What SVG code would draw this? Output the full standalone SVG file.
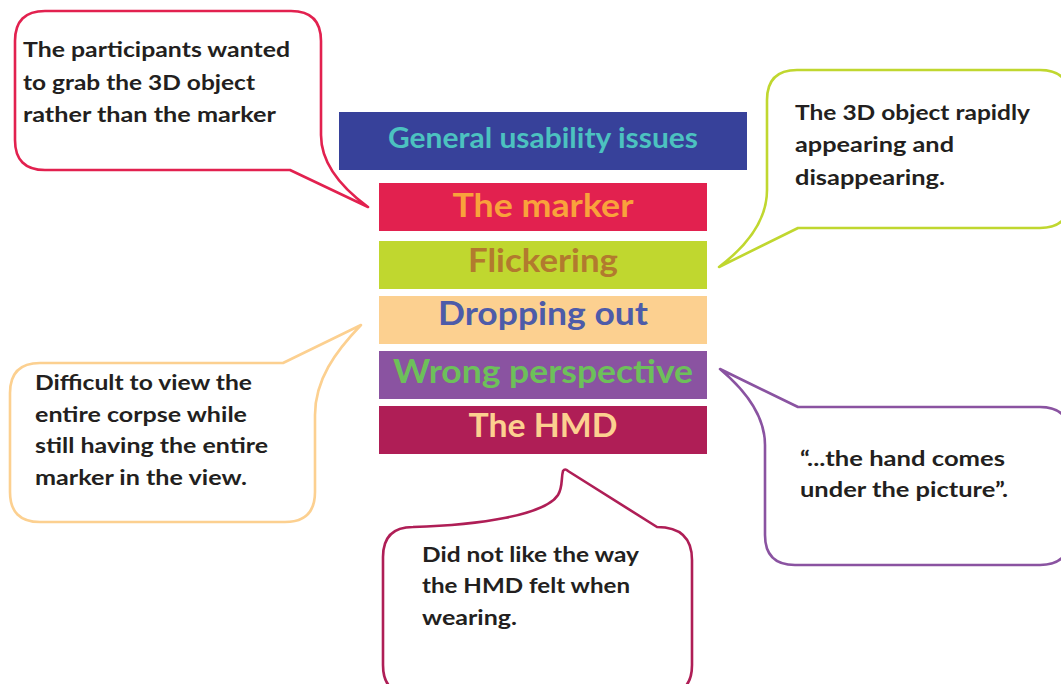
<svg xmlns="http://www.w3.org/2000/svg" width="1061" height="684" viewBox="0 0 1061 684">
  <style>
    .bar-label { font-family: Lato, "Open Sans", "Liberation Sans", sans-serif; font-weight: 700; text-anchor: middle; }
    .head { font-size: 28px; }
    .item { font-size: 33px; }
    .bubble { fill: #ffffff; stroke-width: 2.6; stroke-linejoin: round; }
    .note { font-family: Lato, "Open Sans", "Liberation Sans", sans-serif; font-weight: 700; font-size: 20px; fill: #231f20; }
  </style>

  <rect width="1061" height="684" fill="#ffffff"/>

  <!-- category stack -->
  <g id="header">
    <rect x="339" y="112" width="408" height="58" fill="#37419a"/>
    <text class="bar-label head" x="543" y="148" fill="#4cc2c0" textLength="310" lengthAdjust="spacingAndGlyphs">General usability issues</text>
  </g>
  <g id="marker">
    <rect x="379" y="183" width="328" height="48" fill="#e2214f"/>
    <text class="bar-label item" x="543" y="217" fill="#f9a23b" textLength="181" lengthAdjust="spacingAndGlyphs">The marker</text>
  </g>
  <g id="flickering">
    <rect x="379" y="241" width="328" height="48" fill="#c0d72f"/>
    <text class="bar-label item" x="543" y="272" fill="#b27a2e" textLength="150" lengthAdjust="spacingAndGlyphs">Flickering</text>
  </g>
  <g id="dropping-out">
    <rect x="379" y="296" width="328" height="48" fill="#fcd090"/>
    <text class="bar-label item" x="543" y="325" fill="#4d5ba9" textLength="210" lengthAdjust="spacingAndGlyphs">Dropping out</text>
  </g>
  <g id="wrong-perspective">
    <rect x="379" y="351" width="328" height="48" fill="#8a53a1"/>
    <text class="bar-label item" x="543" y="383" fill="#6dc05a" textLength="300" lengthAdjust="spacingAndGlyphs">Wrong perspective</text>
  </g>
  <g id="hmd">
    <rect x="379" y="406" width="328" height="48" fill="#af1e56"/>
    <text class="bar-label item" x="543" y="437" fill="#fcd090" textLength="149" lengthAdjust="spacingAndGlyphs">The HMD</text>
  </g>

  <!-- speech bubbles, each with its pointer tail -->
  <g id="note-marker">
    <path class="bubble" stroke="#e2214f" stroke-width="3" d="M45,11 H291 Q321,11 321,41 V135 C321,165 342,188 368,207 L290,170 H45 Q15,170 15,140 V41 Q15,11 45,11 Z"/>
    <text class="note" x="23" y="57" textLength="267" lengthAdjust="spacingAndGlyphs">The participants wanted</text>
    <text class="note" x="23" y="90" textLength="232" lengthAdjust="spacingAndGlyphs">to grab the 3D object</text>
    <text class="note" x="23" y="122" textLength="253" lengthAdjust="spacingAndGlyphs">rather than the marker</text>
  </g>

  <g id="note-flickering">
    <path class="bubble" stroke="#c0d72f" d="M797,70 H1040 Q1070,70 1070,100 V198 Q1070,228 1040,228 H798 L719,267 C748,245 767,220 767,190 V100 Q767,70 797,70 Z"/>
    <text class="note" x="795" y="120" textLength="235" lengthAdjust="spacingAndGlyphs">The 3D object rapidly</text>
    <text class="note" x="795" y="152" textLength="159" lengthAdjust="spacingAndGlyphs">appearing and</text>
    <text class="note" x="795" y="185" textLength="150" lengthAdjust="spacingAndGlyphs">disappearing.</text>
  </g>

  <g id="note-dropping-out">
    <path class="bubble" stroke="#fcd090" d="M40,363 H283 L361,325 C335,352 315,380 315,415 V492 Q315,522 285,522 H40 Q10,522 10,492 V393 Q10,363 40,363 Z"/>
    <text class="note" x="35" y="390" textLength="217" lengthAdjust="spacingAndGlyphs">Difficult to view the</text>
    <text class="note" x="35" y="422" textLength="212" lengthAdjust="spacingAndGlyphs">entire corpse while</text>
    <text class="note" x="35" y="453" textLength="233" lengthAdjust="spacingAndGlyphs">still having the entire</text>
    <text class="note" x="35" y="485" textLength="212" lengthAdjust="spacingAndGlyphs">marker in the view.</text>
  </g>

  <g id="note-perspective">
    <path class="bubble" stroke="#8a53a1" d="M798,407 H1040 Q1070,407 1070,437 V535 Q1070,565 1040,565 H795 Q765,565 765,535 V445 C765,415 745,390 720,369 Z"/>
    <text class="note" x="800" y="466" textLength="205" lengthAdjust="spacingAndGlyphs">“...the hand comes</text>
    <text class="note" x="800" y="497" textLength="208" lengthAdjust="spacingAndGlyphs">under the picture”.</text>
  </g>

  <g id="note-hmd">
    <path class="bubble" stroke="#af1e56" d="M413,527 C480,525 545,515 558,495 C563,487 561,478 563,471 Q565,468 568,471 L657,527 Q692,527 692,560 V665 Q692,695 662,695 H413 Q383,695 383,665 V557 Q383,527 413,527 Z"/>
    <text class="note" x="422" y="562" textLength="217" lengthAdjust="spacingAndGlyphs">Did not like the way</text>
    <text class="note" x="422" y="593" textLength="208" lengthAdjust="spacingAndGlyphs">the HMD felt when</text>
    <text class="note" x="422" y="625" textLength="95" lengthAdjust="spacingAndGlyphs">wearing.</text>
  </g>
</svg>
